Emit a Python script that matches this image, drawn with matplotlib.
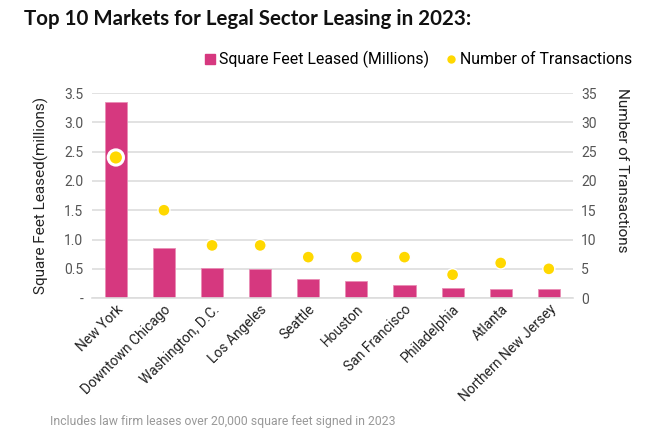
import matplotlib.pyplot as plt
from matplotlib.lines import Line2D

markets = ["New York", "Downtown Chicago", "Washington, D.C.", "Los Angeles",
           "Seattle", "Houston", "San Francisco", "Philadelphia", "Atlanta",
           "Northern New Jersey"]
sqft_millions = [3.35, 0.85, 0.51, 0.50, 0.32, 0.29, 0.23, 0.17, 0.16, 0.15]
transactions = [24, 15, 9, 9, 7, 7, 7, 4, 6, 5]

left_ticks = [0, 0.5, 1.0, 1.5, 2.0, 2.5, 3.0, 3.5]
left_labels = ["-", "0.5", "1.0", "1.5", "2.0", "2.5", "3.0", "3.5"]
right_ticks = [0, 5, 10, 15, 20, 25, 30, 35]

PINK = "#D6387F"
YELLOW = "#FFD800"
TICK_GREY = "#555555"

plt.rcParams["font.family"] = ["Roboto", "DejaVu Sans"]

fig = plt.figure(figsize=(6.7, 4.45), dpi=100)
ax = fig.add_axes([0.137, 0.330, 0.718, 0.461])
ax2 = ax.twinx()

x = range(len(markets))
ax.bar(x, sqft_millions, width=0.46, color=PINK, edgecolor="#E98DB5",
       linewidth=0.6, zorder=2)
ax.set_ylim(0, 3.5)
ax.set_yticks(left_ticks)
ax.set_yticklabels(left_labels)
ax.set_xlim(-0.5, len(markets) - 0.5)
ax.grid(axis="y", color="#DDDDDD", linewidth=1.2, zorder=0)
ax.set_axisbelow(True)
ax.set_xticks(list(x))
ax.set_xticklabels(markets, rotation=45, ha="right", rotation_mode="anchor",
                   fontsize=9.8, color="#222222")
ax.set_ylabel("Square Feet Leased(millions)", fontsize=11, color="#222222",
              labelpad=11)

ax2.set_ylim(0, 35)
ax2.set_yticks(right_ticks)
sizes = [120] + [75] * (len(markets) - 1)
edge_w = [2.2] + [1.0] * (len(markets) - 1)
ax2.scatter(list(x), transactions, s=sizes, color=YELLOW, edgecolors="white",
            linewidths=edge_w, zorder=3)

for a in (ax, ax2):
    for s in a.spines.values():
        s.set_visible(False)
    a.tick_params(length=0, labelsize=10, colors=TICK_GREY, pad=6)
ax.tick_params(axis="x", pad=3, colors="#222222")
ax.spines["bottom"].set_visible(True)
ax.spines["bottom"].set_color("#DDDDDD")
ax.spines["bottom"].set_linewidth(1.2)

# right axis title, hung from the top like the original
fig.text(0.928, 0.802, "Number of Transactions", rotation=-90, fontsize=11,
         color="#222222", ha="center", va="top")

fig.text(0.036, 0.958, "Top 10 Markets for Legal Sector Leasing in 2023:",
         fontsize=14.8, fontweight="bold", family=["Lato", "DejaVu Sans"],
         va="center", color="#111111")

handles = [
    Line2D([], [], marker="s", linestyle="none", color=PINK, markersize=7),
    Line2D([], [], marker="o", linestyle="none", color=YELLOW, markersize=5),
]
fig.legend(handles, ["Square Feet Leased (Millions)", "Number of Transactions"],
           loc="center right", bbox_to_anchor=(0.943, 0.866), ncol=2,
           frameon=False, fontsize=11.4, handletextpad=0.15, columnspacing=1.0,
           handlelength=0.8, borderaxespad=0, borderpad=0)

fig.text(0.075, 0.052, "Includes law firm leases over 20,000 square feet signed in 2023",
         fontsize=8.8, color="#999999", va="center")

fig.savefig("out.png", dpi=100)
